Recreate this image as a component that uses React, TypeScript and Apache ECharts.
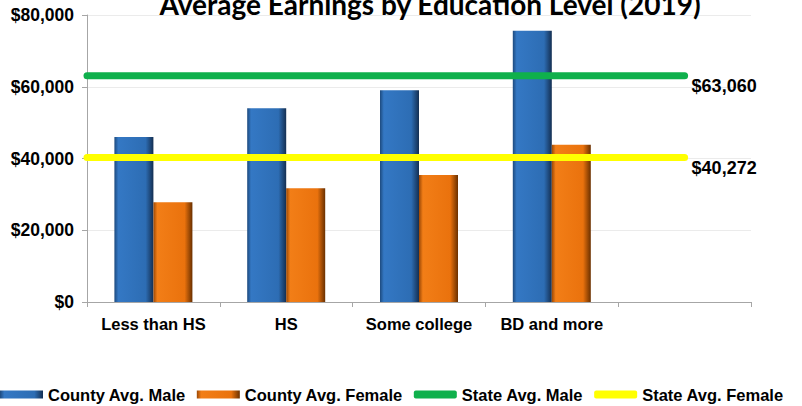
import React, { useEffect, useRef } from "react";
import * as echarts from "echarts";

const titleText = "Average Earnings by Education Level (2019)";
const categories = ["Less than HS", "HS", "Some college", "BD and more", ""];
const countyMale: (number | string)[] = [46000, 54000, 59000, 75600, "-"];
const countyFemale: (number | string)[] = [27800, 31700, 35400, 43800, "-"];
const stateMale = 63060;
const stateFemale = 40272;
const yTicks = { min: 0, max: 80000, interval: 20000 };
const seriesNames = ["County Avg. Male", "County Avg. Female", "State Avg. Male", "State Avg. Female"];

const FONT = "'Liberation Sans', Arial, sans-serif";

export default function App() {
  const ref = useRef<HTMLDivElement>(null);
  useEffect(() => {
    if (!ref.current) return;
    const chart = echarts.init(ref.current, null, { renderer: "svg" });
    const lineEnd = categories.length - 0.5;
    const blue = new echarts.graphic.LinearGradient(0, 0, 1, 0, [
      { offset: 0, color: "#1d4a7e" },
      { offset: 0.1, color: "#3478c4" },
      { offset: 0.8, color: "#2d6db4" },
      { offset: 1, color: "#142f52" },
    ]);
    const orange = new echarts.graphic.LinearGradient(0, 0, 1, 0, [
      { offset: 0, color: "#9a4705" },
      { offset: 0.1, color: "#f27e17" },
      { offset: 0.8, color: "#ea720d" },
      { offset: 1, color: "#6a3000" },
    ]);
    const fmt = (v: number) => "$" + v.toLocaleString("en-US");
    const lineSeries = (name: string, v: number, color: string) => ({
      name,
      type: "line",
      xAxisIndex: 1,
      data: [[0, v], [lineEnd, v]],
      symbol: "none",
      z: 5,
      itemStyle: { color },
      lineStyle: { color, width: 7, cap: "round" },
      endLabel: {
        show: true,
        formatter: () => fmt(v),
        color: "#000",
        fontFamily: FONT,
        fontWeight: "bold",
        fontSize: 18,
        distance: 7,
        offset: [0, 10],
      },
    });
    chart.setOption({
      animation: false,
      backgroundColor: "#fff",
      title: {
        text: titleText,
        left: 425,
        top: -15,
        textAlign: "center",
        textStyle: { fontFamily: "Lato, 'Open Sans', sans-serif", fontWeight: "bold", fontSize: 28, color: "#000" },
      },
      grid: { left: 87, right: 51, top: 15, bottom: 104 },
      legend: {
        left: 0,
        top: 386,
        padding: 0,
        itemGap: 11,
        itemWidth: 43,
        itemHeight: 8,
        textStyle: { fontFamily: FONT, fontWeight: "bold", fontSize: 16.5, color: "#000" },
        data: [
          { name: seriesNames[0], icon: "rect" },
          { name: seriesNames[1], icon: "rect" },
          { name: seriesNames[2], icon: "roundRect" },
          { name: seriesNames[3], icon: "roundRect" },
        ],
      },
      xAxis: [
        {
          type: "category",
          data: categories,
          axisLine: { lineStyle: { color: "#a6a6a6", width: 1 } },
          axisTick: { show: true, length: 5, lineStyle: { color: "#a6a6a6" } },
          axisLabel: { interval: 0, margin: 13, color: "#000", fontFamily: FONT, fontWeight: "bold", fontSize: 16.5 },
        },
        { type: "value", min: 0, max: categories.length, show: false },
      ],
      yAxis: {
        type: "value",
        min: yTicks.min,
        max: yTicks.max,
        interval: yTicks.interval,
        axisLine: { show: true, lineStyle: { color: "#a6a6a6" } },
        axisTick: { show: true, length: 5, lineStyle: { color: "#a6a6a6" } },
        splitLine: { lineStyle: { color: "#ebebeb" } },
        axisLabel: {
          margin: 13,
          color: "#000",
          fontFamily: FONT,
          fontWeight: "bold",
          fontSize: 17.5,
          formatter: (v: number) => fmt(v),
        },
      },
      series: [
        { name: seriesNames[0], type: "bar", data: countyMale, barWidth: 39, barGap: "0%", itemStyle: { color: blue } },
        { name: seriesNames[1], type: "bar", data: countyFemale, barWidth: 39, barGap: "0%", itemStyle: { color: orange } },
        lineSeries(seriesNames[2], stateMale, "#0fb04c"),
        lineSeries(seriesNames[3], stateFemale, "#ffff00"),
      ],
    });
    return () => chart.dispose();
  }, []);
  return <div ref={ref} style={{ position: "fixed", left: 0, top: 0, width: 802, height: 406 }} />;
}
